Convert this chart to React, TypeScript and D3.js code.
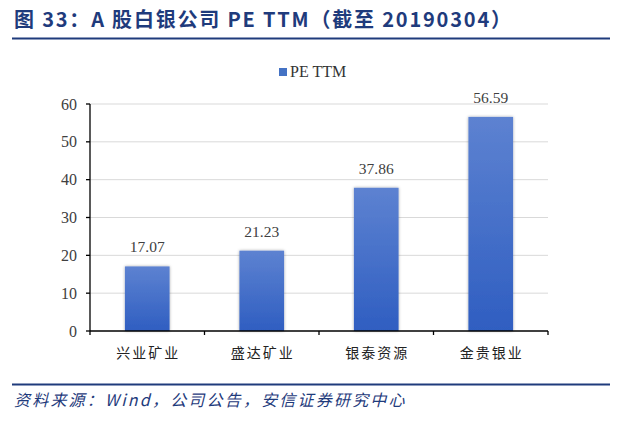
import React from "react";
import * as d3 from "d3";

const categories = ["兴业矿业", "盛达矿业", "银泰资源", "金贵银业"];
const values = [17.07, 21.23, 37.86, 56.59];
const yTicks = [0, 10, 20, 30, 40, 50, 60];
const seriesName = "PE TTM";
const titleText = "图 33：A 股白银公司 PE TTM（截至 20190304）";
const sourceText = "资料来源：Wind，公司公告，安信证券研究中心";

export default function App() {
  const W = 619, H = 421;
  const left = 90, right = 548, top = 104, bottom = 331;
  const x = d3.scaleBand<string>().domain(categories).range([left, right]).paddingInner(0.61).paddingOuter(0.305);
  const xb = d3.scaleBand<string>().domain(categories).range([left, right]);
  const y = d3.scaleLinear().domain([0, 60]).range([bottom, top]);
  const navy = "#1f3b7c";
  return (
    <svg width={W} height={H} style={{ position: "absolute", left: 0, top: 0 }}>
      <defs>
        <linearGradient id="bg" x1="0" y1="0" x2="0" y2="1">
          <stop offset="0%" stopColor="#5d82d1" />
          <stop offset="100%" stopColor="#2f5ec1" />
        </linearGradient>
        <filter id="sh" x="-20%" y="-10%" width="140%" height="120%">
          <feDropShadow dx="0" dy="0" stdDeviation="1.5" floodColor="#000" floodOpacity="0.35" />
        </filter>
      </defs>
      <rect width={W} height={H} fill="#fff" />
      <text x={14} y={27} fill={navy} fontFamily="'Noto Sans CJK SC', sans-serif" fontWeight="bold" fontSize={20} letterSpacing={1.8}>{titleText}</text>
      <line x1={12} x2={610} y1={38.5} y2={38.5} stroke={navy} strokeWidth={2} />
      {/* legend */}
      <rect x={279} y={68} width={8} height={8} fill="#4472c4" />
      <text x={290} y={77} fontFamily="'Liberation Serif', serif" fontSize={16} fill="#333">{seriesName}</text>
      {/* grid */}
      {yTicks.filter(t => t > 0).map(t => (
        <line key={t} x1={left} x2={right} y1={y(t)} y2={y(t)} stroke="#d9d9d9" strokeWidth={1} />
      ))}
      {/* bars */}
      {categories.map((c, i) => (
        <g key={c}>
          <rect x={x(c)} y={y(values[i])} width={x.bandwidth()} height={bottom - y(values[i])} fill="url(#bg)" filter="url(#sh)" />
          <text x={(x(c) as number) + x.bandwidth() / 2} y={y(values[i]) - 14} textAnchor="middle" fontFamily="'Liberation Serif', serif" fontSize={15.5} fill="#404040">{values[i].toFixed(2)}</text>
        </g>
      ))}
      {/* axes */}
      <line x1={left} x2={left} y1={top} y2={bottom} stroke="#000" strokeWidth={1.3} />
      <line x1={left} x2={right} y1={bottom} y2={bottom} stroke="#000" strokeWidth={1.3} />
      {yTicks.map(t => (
        <g key={t}>
          <line x1={left - 4} x2={left} y1={y(t)} y2={y(t)} stroke="#000" strokeWidth={1.3} />
          <text x={77} y={y(t) + 5.5} textAnchor="end" fontFamily="'Liberation Serif', serif" fontSize={16} fill="#404040">{t}</text>
        </g>
      ))}
      {categories.map(c => (
        <line key={c} x1={xb(c)} x2={xb(c)} y1={bottom} y2={bottom + 4} stroke="#000" strokeWidth={1.3} />
      ))}
      <line x1={right} x2={right} y1={bottom} y2={bottom + 4} stroke="#000" strokeWidth={1.3} />
      {categories.map(c => (
        <text key={c} x={(xb(c) as number) + xb.bandwidth() / 2 + 1} y={358} textAnchor="middle" fontFamily="'Noto Sans CJK SC', sans-serif" fontSize={14} fill="#222" letterSpacing={2}>{c}</text>
      ))}
      <line x1={12} x2={610} y1={384.5} y2={384.5} stroke={navy} strokeWidth={2} />
      <text x={14} y={406} fill={navy} fontFamily="'Noto Sans CJK SC', sans-serif" fontStyle="italic" fontSize={16} letterSpacing={2.2}>{sourceText}</text>
    </svg>
  );
}
